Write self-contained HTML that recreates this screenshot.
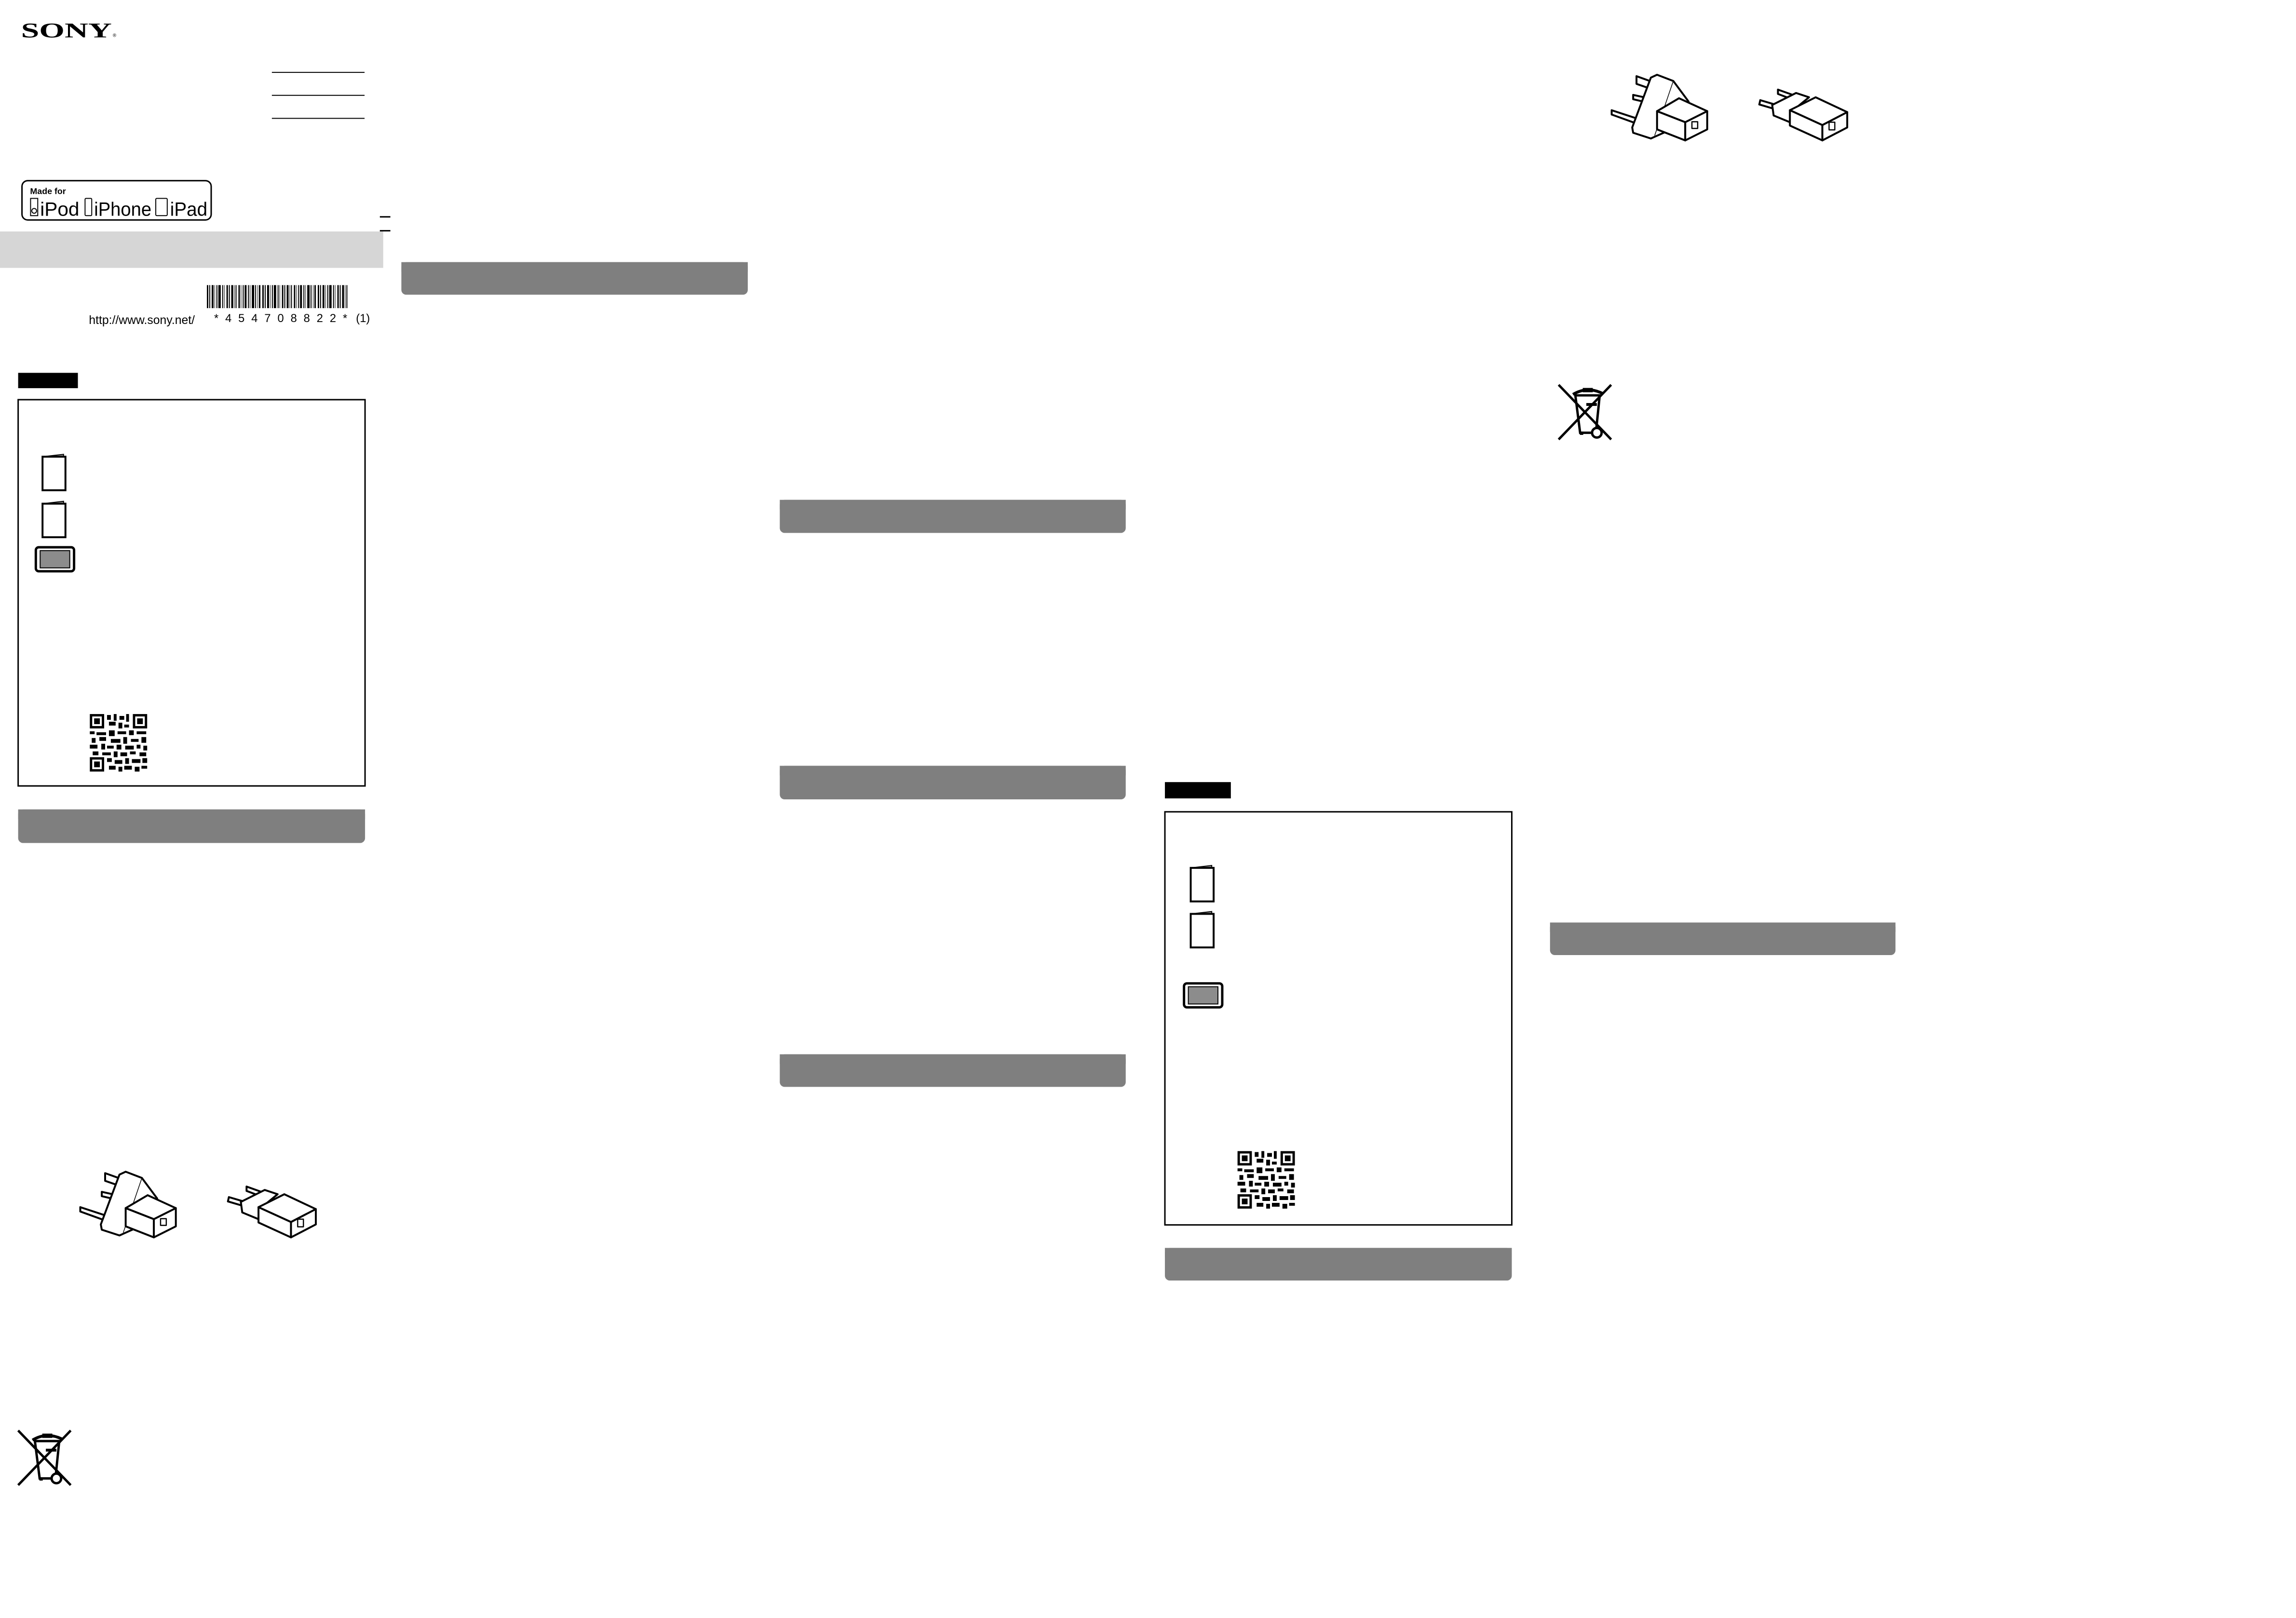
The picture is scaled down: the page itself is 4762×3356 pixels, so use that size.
<!DOCTYPE html>
<html><head><meta charset="utf-8"><style>
html,body{margin:0;padding:0;background:#fff;}
svg{display:block}
</style></head><body>
<svg width="4762" height="3356" viewBox="0 0 4762 3356" xmlns="http://www.w3.org/2000/svg" font-family="Liberation Sans, sans-serif">
<defs>
<g id="plugs" stroke="#000" stroke-width="4" stroke-linejoin="round" fill="#fff">
  <polygon points="52,4 80,14 78,29 52,20"/>
  <polygon points="45,43 68,48 66,57 45,52"/>
  <polygon points="0,75 55,93 50,102 0,84"/>
  <polygon points="95,1 129,14 161,57 109,122 82,134 45,122 43,111 82,7"/>
  <line x1="129" y1="14" x2="90" y2="128" stroke-width="1.5"/>
  <polygon points="95,77 141,50 200,77 154,100"/>
  <polygon points="95,77 154,100 154,138 95,115"/>
  <polygon points="154,100 200,77 200,115 154,138"/>
  <rect x="168" y="99" width="12" height="14" stroke-width="2.5"/>
  <polygon points="311,54 345,64 343,73 309,63"/>
  <polygon points="348,32 379,43 377,52 348,41"/>
  <polygon points="336,64 386,39 413,48 375,79 373,100 339,86"/>
  <polygon points="373,75 427,48 493,79 441,106"/>
  <polygon points="373,75 441,106 441,138 373,107"/>
  <polygon points="441,106 493,79 493,111 441,138"/>
  <rect x="455" y="100" width="12" height="16" stroke-width="2.5"/>
</g>
<g id="bin" stroke="#000" fill="none">
  <line x1="0" y1="0" x2="110" y2="114" stroke-width="5"/>
  <line x1="110" y1="0" x2="0" y2="114" stroke-width="5"/>
  <path d="M35,22 L45,100 L78,100 L86,22 Z" stroke-width="5"/>
  <path d="M30,20 Q60,2 92,18" stroke-width="6"/>
  <rect x="52" y="8" width="18" height="6" stroke-width="3"/>
  <rect x="58" y="38" width="22" height="6" fill="#000" stroke="none"/>
  <circle cx="80" cy="100" r="10" stroke-width="5" fill="#fff"/>
  <rect x="45" y="98" width="6" height="6" fill="#000"/>
</g>
<g id="booklet" stroke="#000" fill="#fff">
  <polygon points="2,8 46,3 46,8" fill="#999" stroke-width="2"/>
  <rect x="2" y="8" width="48" height="70" stroke-width="4"/>
</g>
<g id="tablet">
  <rect x="2" y="2" width="80" height="50" rx="6" fill="#fff" stroke="#000" stroke-width="5"/>
  <rect x="11" y="9" width="62" height="36" fill="#8c8c8c" stroke="#000" stroke-width="2"/>
</g>
<g id="qr" fill="#000">
  <rect x="0" y="0" width="30" height="30"/><rect x="5" y="5" width="20" height="20" fill="#fff"/><rect x="9" y="9" width="12" height="12"/>
  <rect x="90" y="0" width="30" height="30"/><rect x="95" y="5" width="20" height="20" fill="#fff"/><rect x="99" y="9" width="12" height="12"/>
  <rect x="0" y="90" width="30" height="30"/><rect x="5" y="95" width="20" height="20" fill="#fff"/><rect x="9" y="99" width="12" height="12"/>
  <rect x="36" y="2" width="8" height="10"/><rect x="50" y="0" width="6" height="14"/><rect x="62" y="4" width="10" height="8"/><rect x="76" y="0" width="6" height="16"/>
  <rect x="40" y="16" width="14" height="8"/><rect x="60" y="18" width="8" height="12"/><rect x="72" y="22" width="10" height="6"/>
  <rect x="0" y="36" width="10" height="6"/><rect x="14" y="38" width="20" height="6"/><rect x="40" y="34" width="12" height="12"/><rect x="58" y="36" width="18" height="6"/><rect x="82" y="34" width="10" height="10"/><rect x="98" y="36" width="20" height="6"/>
  <rect x="4" y="50" width="8" height="10"/><rect x="20" y="48" width="14" height="8"/><rect x="44" y="52" width="20" height="8"/><rect x="70" y="48" width="8" height="14"/><rect x="86" y="52" width="16" height="6"/><rect x="108" y="48" width="10" height="12"/>
  <rect x="0" y="64" width="16" height="8"/><rect x="24" y="62" width="8" height="12"/><rect x="36" y="66" width="14" height="6"/><rect x="56" y="64" width="10" height="10"/><rect x="74" y="66" width="18" height="8"/><rect x="98" y="64" width="8" height="8"/><rect x="112" y="66" width="8" height="10"/>
  <rect x="6" y="78" width="12" height="8"/><rect x="26" y="80" width="18" height="6"/><rect x="50" y="78" width="8" height="12"/><rect x="64" y="80" width="14" height="8"/><rect x="84" y="78" width="12" height="6"/><rect x="104" y="80" width="14" height="8"/>
  <rect x="36" y="92" width="10" height="8"/><rect x="52" y="96" width="16" height="8"/><rect x="74" y="92" width="8" height="12"/><rect x="88" y="94" width="18" height="8"/><rect x="110" y="92" width="10" height="10"/>
  <rect x="40" y="108" width="14" height="8"/><rect x="60" y="110" width="8" height="10"/><rect x="72" y="108" width="16" height="8"/><rect x="94" y="110" width="10" height="10"/><rect x="108" y="108" width="12" height="6"/>
</g>
</defs>
<g transform="scale(0.991,0.994)">
<text x="44" y="78" font-family="Liberation Serif, serif" font-weight="bold" font-size="44" textLength="190" lengthAdjust="spacingAndGlyphs">SONY</text>
<text x="236" y="77" font-size="10">®</text>
<line x1="569" y1="151" x2="763" y2="151" stroke="#000" stroke-width="2"/>
<line x1="569" y1="199" x2="763" y2="199" stroke="#000" stroke-width="2"/>
<line x1="569" y1="247" x2="763" y2="247" stroke="#000" stroke-width="2"/>

<rect x="46" y="377" width="396" height="82" rx="12" fill="#fff" stroke="#000" stroke-width="3"/>
<text x="63" y="405" font-size="18" font-weight="bold">Made for</text>
<rect x="64" y="414" width="15" height="36" fill="none" stroke="#000" stroke-width="2"/>
<circle cx="71.5" cy="440" r="5" fill="none" stroke="#000" stroke-width="2"/>
<text x="84" y="450" font-size="40" textLength="82" lengthAdjust="spacingAndGlyphs">iPod</text>
<rect x="178" y="414" width="14" height="36" rx="2" fill="none" stroke="#000" stroke-width="2"/>
<text x="197" y="450" font-size="40" textLength="120" lengthAdjust="spacingAndGlyphs">iPhone</text>
<rect x="326" y="414" width="24" height="36" rx="2" fill="none" stroke="#000" stroke-width="2"/>
<text x="356" y="450" font-size="40" textLength="78" lengthAdjust="spacingAndGlyphs">iPad</text>

<rect x="0" y="483" width="802" height="76" fill="#d6d6d6"/>
<rect x="795" y="451" width="22" height="3" fill="#000"/>
<rect x="795" y="480" width="22" height="3" fill="#000"/>

<rect x="840" y="547" width="725" height="68" rx="10" fill="#7f7f7f"/>
<rect x="840" y="547" width="725" height="20" fill="#7f7f7f"/>

<line x1="433" y1="619" x2="728" y2="619" stroke="#000" stroke-width="48" stroke-dasharray="3 2 2 3 4 2 1 3 2 2 5 3 2 2 1 4 3 2 2 3 4 2 1 2 2 4 3 2 1 3 2 2 4 3 2 2 1 3 5 2 2 3 1 2 3 4"/>
<text x="448" y="672" font-size="24" letter-spacing="14">*454708822*</text>
<text x="745" y="672" font-size="24">(1)</text>
<text x="186" y="676" font-size="25">http://www.sony.net/</text>

<rect x="38" y="778" width="125" height="32" fill="#000"/>
<rect x="38" y="834" width="726" height="806" fill="none" stroke="#000" stroke-width="3"/>
<use href="#booklet" x="87" y="945"/>
<use href="#booklet" x="87" y="1043"/>
<use href="#tablet" x="73" y="1140"/>
<use href="#qr" x="188" y="1490"/>
<rect x="38" y="1689" width="726" height="70" rx="10" fill="#7f7f7f"/>
<rect x="38" y="1689" width="726" height="20" fill="#7f7f7f"/>

<use href="#plugs" x="168" y="2444"/>
<use href="#bin" x="38" y="2985"/>

<rect x="1632" y="1043" width="724" height="69" rx="10" fill="#7f7f7f"/>
<rect x="1632" y="1043" width="724" height="20" fill="#7f7f7f"/>
<rect x="1632" y="1598" width="724" height="70" rx="10" fill="#7f7f7f"/>
<rect x="1632" y="1598" width="724" height="20" fill="#7f7f7f"/>
<rect x="1632" y="2200" width="724" height="68" rx="10" fill="#7f7f7f"/>
<rect x="1632" y="2200" width="724" height="20" fill="#7f7f7f"/>

<rect x="2438" y="1632" width="138" height="34" fill="#000"/>
<rect x="2438" y="1694" width="726" height="862" fill="none" stroke="#000" stroke-width="3"/>
<use href="#booklet" x="2490" y="1803"/>
<use href="#booklet" x="2490" y="1899"/>
<use href="#tablet" x="2476" y="2050"/>
<use href="#qr" x="2590" y="2402"/>
<rect x="2438" y="2604" width="726" height="68" rx="10" fill="#7f7f7f"/>
<rect x="2438" y="2604" width="726" height="20" fill="#7f7f7f"/>

<use href="#plugs" x="3373" y="155"/>
<use href="#bin" x="3262" y="803"/>
<rect x="3244" y="1925" width="723" height="68" rx="10" fill="#7f7f7f"/>
<rect x="3244" y="1925" width="723" height="20" fill="#7f7f7f"/>
</g>
</svg>
</body></html>
